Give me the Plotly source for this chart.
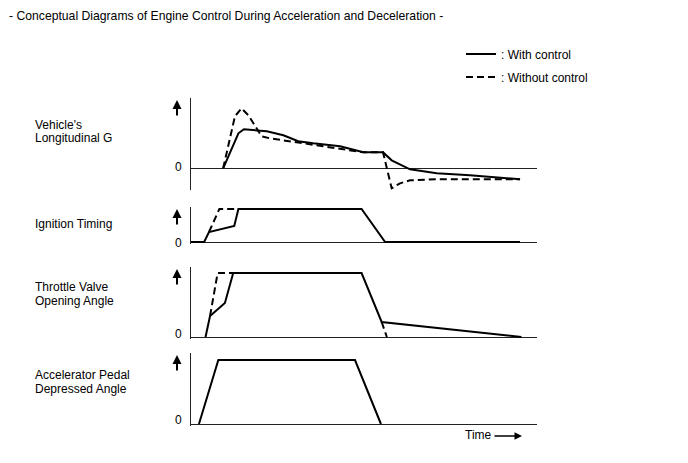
import plotly.graph_objects as go

# page body has an 8px margin: the figure is sized to fill the rest of the 688x463 window
OFF = 8
W, H = 688 - OFF, 463 - OFF

# ---------------- data (time in % of the shown span, levels in arbitrary units) ----------------
g_time_with = [9.3, 13.7, 15.3, 21.9, 26.7, 31.0, 35.3, 43.1, 49.8, 55.5, 58.0, 60.9, 63.3, 71.0, 80.6, 95.1]
g_with = [0, 3.5, 3.9, 3.7, 3.3, 2.7, 2.5, 2.2, 1.6, 1.6, 0.8, 0.3, -0.1, -0.5, -0.7, -1.1]
g_time_without = [9.3, 12.7, 14.6, 16.6, 20.4, 22.8, 32.5, 44.0, 49.8, 55.5, 58.0, 60.4, 63.3, 71.0, 95.1]
g_without = [0, 5.2, 6.0, 5.3, 3.2, 3.0, 2.5, 1.9, 1.6, 1.6, -2.0, -1.5, -1.2, -1.1, -1.1]

ign_time_with = [0, 3.8, 5.2, 12.5, 13.7, 49.3, 56.1, 95.1]
ign_with = [0, 0, 1.0, 1.6, 3.3, 3.3, 0, 0]
ign_time_without = [5.2, 8.2, 13.7]
ign_without = [1.0, 3.3, 3.3]

thr_time_with = [4.2, 5.5, 9.8, 12.2, 49.3, 55.1, 95.5]
thr_with = [0, 2.1, 3.4, 6.4, 6.4, 1.5, 0]
thr_time_without = [5.5, 7.7, 12.2, None, 55.1, 56.6]
thr_without = [2.1, 6.4, 6.4, None, 1.5, 0]

acc_time = [2.3, 7.9, 47.4, 54.9]
acc_with = [0, 6.4, 6.4, 0]

panel_labels = [["Vehicle's", "Longitudinal G"], ["Ignition Timing"],
                ["Throttle Valve", "Opening Angle"], ["Accelerator Pedal", "Depressed Angle"]]
series_names = [": With control", ": Without control"]
title_text = "- Conceptual Diagrams of Engine Control During Acceleration and Deceleration -"
time_label = "Time"

# ---------------- layout helpers (window pixel -> paper) ----------------
def fx(px):
    return (px - OFF) / W

def fy(py):
    return 1 - (py - OFF) / H

FONT = "Liberation Sans, Arial, sans-serif"
INK = "#000000"
AXC = "#222222"
DASH = "7px,4px"

# panel geometry (window pixels): top, bottom of domain, y range
panels = [
    dict(top=98, bottom=190, rng=[-2.17, 7.03]),
    dict(top=207, bottom=243.5, rng=[-0.15, 3.5]),
    dict(top=267, bottom=338.5, rng=[-0.15, 7.0]),
    dict(top=353, bottom=425.5, rng=[-0.15, 7.1]),
]

fig = go.Figure()

data_sets = [
    [(g_time_without, g_without, "dash"), (g_time_with, g_with, "solid")],
    [(ign_time_without, ign_without, "dash"), (ign_time_with, ign_with, "solid")],
    [(thr_time_without, thr_without, "dash"), (thr_time_with, thr_with, "solid")],
    [(acc_time, acc_with, "solid")],
]

for i, sets in enumerate(data_sets):
    xa = "x" if i == 0 else f"x{i+1}"
    ya = "y" if i == 0 else f"y{i+1}"
    for (t, v, style) in sets:
        name = series_names[0] if style == "solid" else series_names[1]
        fig.add_trace(go.Scatter(
            x=t, y=v, mode="lines", xaxis=xa, yaxis=ya,
            name=name, legendgroup=name, showlegend=(i == 0),
            legendrank=1 if style == "solid" else 2,
            line=dict(color=INK, width=2, dash=("solid" if style == "solid" else DASH)),
            hoverinfo="skip", connectgaps=False,
        ))

layout = dict(
    width=W, height=H,
    margin=dict(l=0, r=0, t=0, b=0),
    paper_bgcolor="white", plot_bgcolor="rgba(0,0,0,0)",
    font=dict(family=FONT, size=12, color=INK),
    showlegend=True,
    legend=dict(x=fx(461), xanchor="left", y=fy(39.5), yanchor="top",
                traceorder="grouped", tracegroupgap=4,
                bgcolor="rgba(0,0,0,0)", borderwidth=0,
                font=dict(family=FONT, size=12, color=INK)),
)

annotations = []
# title, kept fully inside the drawing area
annotations.append(dict(xref="paper", yref="paper", x=0, y=1, xanchor="left", yanchor="top",
                        text=title_text, showarrow=False, borderpad=0,
                        font=dict(family=FONT, size=12.2, color=INK)))

for i, p in enumerate(panels):
    key = "" if i == 0 else str(i + 1)
    layout["xaxis" + key] = dict(
        domain=[fx(191), fx(537)], range=[0, 100],
        showline=False, showgrid=False, zeroline=False,
        showticklabels=False, ticks="", anchor="y" + key, fixedrange=True,
    )
    layout["yaxis" + key] = dict(
        domain=[fy(p["bottom"]), fy(p["top"])], range=p["rng"],
        showline=True, linecolor=AXC, linewidth=1,
        zeroline=True, zerolinecolor=AXC, zerolinewidth=1,
        showgrid=False, showticklabels=False, ticks="", anchor="x" + key, fixedrange=True,
    )
    # up arrow
    annotations.append(dict(
        xref="paper", yref="paper", x=fx(177), y=fy(p["top"] + 2),
        ax=0, ay=17, axref="pixel", ayref="pixel", text="",
        showarrow=True, arrowhead=2, arrowsize=0.9, arrowwidth=2, arrowcolor=INK, standoff=0,
    ))

# zero labels
zero_y = [167, 243, 334, 420]
for zy in zero_y:
    annotations.append(dict(xref="paper", yref="paper", x=fx(178), y=fy(zy),
                            xanchor="center", yanchor="middle", text="0", showarrow=False,
                            font=dict(family=FONT, size=12, color=INK)))

# panel labels
label_y = [[125, 138], [224], [287, 301], [375, 389]]
for lines, ys in zip(panel_labels, label_y):
    for txt, yy in zip(lines, ys):
        annotations.append(dict(xref="paper", yref="paper", x=fx(33), y=fy(yy),
                                xanchor="left", yanchor="middle", text=txt, showarrow=False,
                                font=dict(family=FONT, size=12, color=INK)))

# time label and arrow
annotations.append(dict(xref="paper", yref="paper", x=fx(463), y=fy(435),
                        xanchor="left", yanchor="middle", text=time_label, showarrow=False,
                        font=dict(family=FONT, size=12, color=INK)))
annotations.append(dict(xref="paper", yref="paper", x=fx(522), y=fy(436),
                        ax=-29, ay=0, axref="pixel", ayref="pixel", text="",
                        showarrow=True, arrowhead=2, arrowsize=1, arrowwidth=1.5,
                        arrowcolor=INK, standoff=0))

layout["annotations"] = annotations
fig.update_layout(**layout)

fig.write_html("out.html")
